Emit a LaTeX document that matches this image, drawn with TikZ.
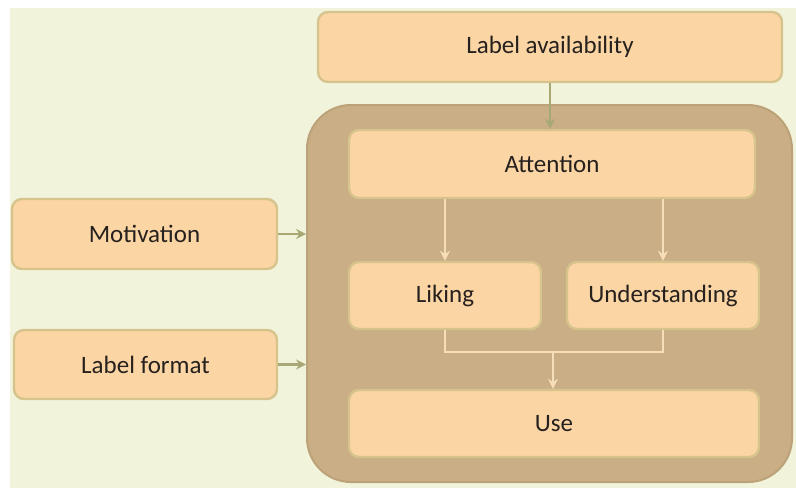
\documentclass[tikz,border=0pt]{standalone}
\usepackage{fontspec}
\setmainfont{Carlito}
\usepackage{xcolor}
\usetikzlibrary{positioning,arrows.meta}
\definecolor{paper}{RGB}{241,243,219}
\definecolor{peach}{RGB}{251,213,164}
\definecolor{peachline}{RGB}{214,196,140}
\definecolor{tan}{RGB}{201,174,134}
\definecolor{tanline}{RGB}{188,162,120}
\definecolor{olive}{RGB}{168,168,118}
\definecolor{pale}{RGB}{246,222,184}
\definecolor{ink}{RGB}{38,33,30}

\begin{document}
\begin{tikzpicture}[x=0.5pt,y=-0.5pt,
    pane/.style={draw=peachline,line width=1.2pt,fill=peach,rounded corners=5pt,
      inner sep=0pt,text=ink,font=\fontsize{12.5}{14}\selectfont},
    outarrow/.style={draw=olive,line width=1.3pt,-{Stealth[length=5pt,width=5pt]}},
    inarrow/.style={draw=pale,line width=1.3pt,-{Stealth[length=5pt,width=5pt]}}]
  % background
  \fill[white] (0,0) rectangle (796,488);
  \fill[paper] (10,8) rectangle (796,488);
  % shared block
  \node[draw=tanline,fill=tan,rounded corners=22pt,line width=1pt,
    minimum width=242.5pt,minimum height=188.5pt] (core) at (549.5,293.5) {};
  % boxes
  \node[pane,minimum width=232pt,minimum height=35pt] (avail) at (550,47) {Label availability};
  \node[pane,minimum width=203pt,minimum height=34pt] (attention) at (552,164) {Attention};
  \node[pane,minimum width=132.5pt,minimum height=35pt] (motiv) at (144.5,234) {Motivation};
  \node[pane,minimum width=96pt,minimum height=33.5pt] (liking) at (445,295.5) {Liking};
  \node[pane,minimum width=96pt,minimum height=33.5pt] (under) at (663,295.5) {Understanding};
  \node[pane,minimum width=131.5pt,minimum height=34.5pt] (format) at (145.5,364.5) {Label format};
  \node[pane,minimum width=205pt,minimum height=33.5pt] (use) at (554,423.5) {Use};
  % connectors
  \coordinate (join) at (553,352);
  \draw[outarrow] (avail.south) -- (avail.south |- attention.north);
  \draw[outarrow] (motiv.east) -- (motiv.east -| core.west);
  \draw[outarrow] (format.east) -- (format.east -| core.west);
  \draw[inarrow] (attention.south -| liking.north) -- (liking.north);
  \draw[inarrow] (attention.south -| under.north) -- (under.north);
  \draw[draw=pale,line width=1.3pt] (liking.south) |- (join) -| (under.south);
  \draw[inarrow] (join) -- (join |- use.north);
\end{tikzpicture}
\end{document}
